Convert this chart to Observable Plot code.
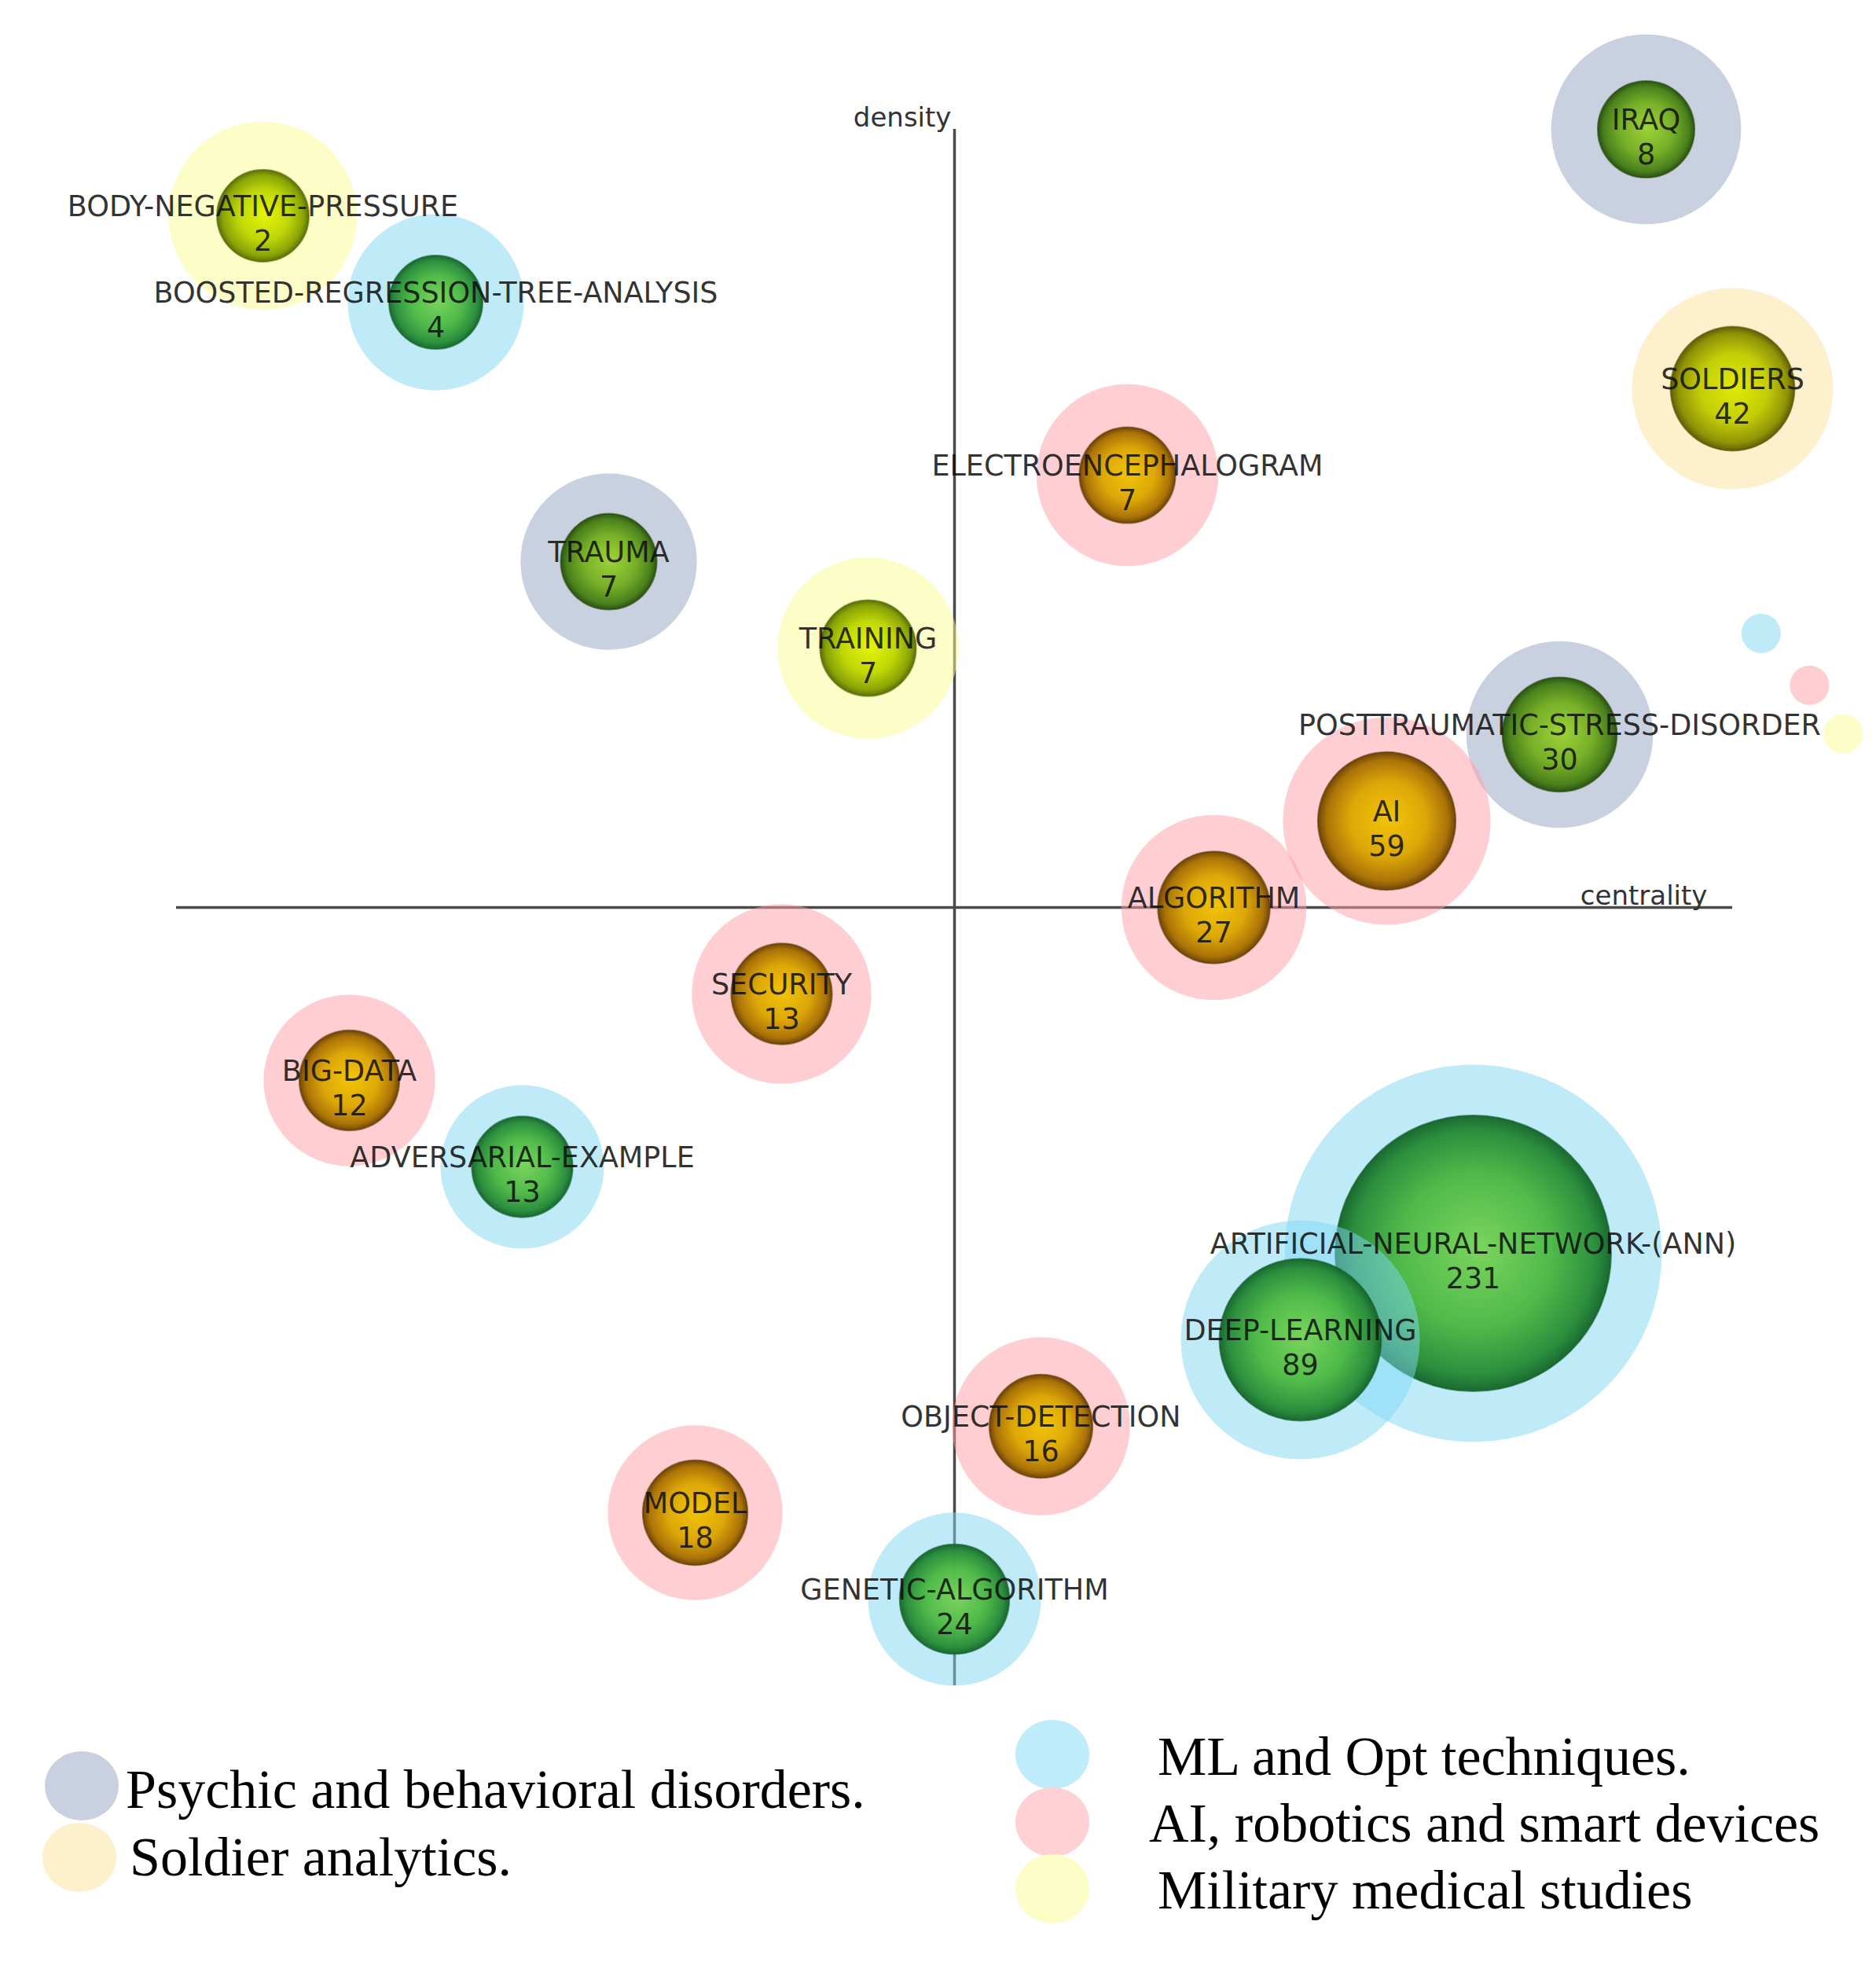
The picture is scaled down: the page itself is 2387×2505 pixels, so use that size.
<!DOCTYPE html>
<html><head><meta charset="utf-8">
<script src="https://cdn.jsdelivr.net/npm/d3@7"></script>
<script src="https://cdn.jsdelivr.net/npm/@observablehq/plot@0.6"></script>
<style>
body{margin:0;background:#fff;}
#wrap{width:2387px;}
#wrap svg{display:block;}
</style></head><body><div id="wrap"></div>
<script>
// Themes of the strategic diagram (drawing order)
const themes = ["IRAQ","SOLDIERS","BODY-NEGATIVE-PRESSURE","BOOSTED-REGRESSION-TREE-ANALYSIS","ELECTROENCEPHALOGRAM","TRAUMA","TRAINING","POSTTRAUMATIC-STRESS-DISORDER","AI","ALGORITHM","SECURITY","BIG-DATA","ADVERSARIAL-EXAMPLE","ARTIFICIAL-NEURAL-NETWORK-(ANN)","DEEP-LEARNING","OBJECT-DETECTION","MODEL","GENETIC-ALGORITHM"];
// centrality and density ranks (axes cross at 0)
const centrality = [8, 9, -8, -6, 2, -4, -1, 7, 5, 3, -2, -7, -5, 6, 4, 1, -3, 0];
const density    = [9, 6, 8, 7, 5, 4, 3, 2, 1, 0, -1, -2, -3, -4, -5, -6, -7, -8];
// number of documents shown in each bubble
const counts     = [8, 42, 2, 4, 7, 7, 7, 30, 59, 27, 13, 12, 13, 231, 89, 16, 18, 24];
// size of the outer (cluster) halo, same units as counts
const haloSize   = [124, 138, 122, 107, 114, 107, 113, 120, 146, 118, 111, 101, 91, 357, 185, 109, 105, 103];
// cluster of each theme
const cluster    = ["psy","sol","med","ml","ai","psy","med","psy","ai","ai","ai","ai","ml","ml","ml","ai","ai","ml"];
// small loose dots on the right
const extraX = [9.33, 9.89, 10.28];
const extraY = [3.17, 2.57, 2.01];
const extraCluster = ["ml", "ai", "med"];
// legend
const legendKeys = ["psy", "sol", "ml", "ai", "med"];
const legendLabels = ["Psychic and behavioral disorders.", "Soldier analytics.", "ML and Opt techniques.", "AI, robotics and smart devices", "Military medical studies"];
const axisLabels = ["centrality", "density"];

// styles
const haloColor = {psy: "#93a1c0", sol: "#fbe199", ml: "#7fd8f3", ai: "#ff9ea8", med: "#fbfb91"};
const legendColor = {psy: "#c9d0df", sol: "#fdf0cc", ml: "#bfecfa", ai: "#ffd0d4", med: "#fdfdc8"};
const coreStroke = {psy: "#24480c", sol: "#5a5200", ml: "#125e28", ai: "#5e3a00", med: "#546600"};
const gradStops = {
  psy: ["#9cd432", "#74ae22", "#467e16", "#27500c"],
  sol: ["#e2ea00", "#c2cc00", "#8c9000", "#5c5800"],
  ml:  ["#78d458", "#4cb944", "#288c38", "#14662a"],
  ai:  ["#f2c400", "#dca600", "#a87000", "#6c4200"],
  med: ["#e6f400", "#bdd600", "#86a000", "#586c00"]
};

const layers = [];
themes.forEach((t, i) => {
  layers.push({x: centrality[i], y: density[i], size: haloSize[i], kind: "halo", c: cluster[i]});
  layers.push({x: centrality[i], y: density[i], size: counts[i], kind: "core", c: cluster[i]});
});
const extras = extraX.map((x, i) => ({x, y: extraY[i], c: extraCluster[i]}));
const idx = d3.range(themes.length);

const chart = Plot.plot({
  width: 2387,
  height: 2180,
  margin: 0,
  style: {background: "white", fontFamily: "DejaVu Sans"},
  x: {domain: [-11, 10.5], range: [4, 2369], axis: null},
  y: {domain: [-9.3, 10.5], range: [2177, -1], axis: null},
  r: {type: "linear", domain: [0, 400], range: [57.5, 57.5 + 0.511 * 400]},
  color: {type: "identity"},
  opacity: {type: "identity"},
  marks: [
    Plot.ruleX([0], {y1: -9, y2: 9, stroke: "#4a4a4a", strokeWidth: 3.5}),
    Plot.ruleY([0], {x1: -9, x2: 9, stroke: "#4a4a4a", strokeWidth: 3.5}),
    Plot.dot(extras, {x: "x", y: "y", r: 25, fill: d => haloColor[d.c], fillOpacity: 0.5, stroke: null}),
    Plot.dot(layers, {
      x: "x", y: "y", r: "size", sort: null,
      fill: d => d.kind === "halo" ? haloColor[d.c] : `url(#grad-${d.c})`,
      fillOpacity: d => d.kind === "halo" ? 0.5 : 0.97,
      stroke: d => d.kind === "halo" ? "none" : coreStroke[d.c],
      strokeOpacity: d => d.kind === "halo" ? 0 : 0.6,
      strokeWidth: 2
    }),
    Plot.text(idx, {x: i => centrality[i], y: i => density[i], text: i => themes[i],
      fontSize: 36.5, lineAnchor: "bottom", fill: "#0e0e0e", fillOpacity: 0.86}),
    Plot.text(idx, {x: i => centrality[i], y: i => density[i], text: i => String(counts[i]),
      fontSize: 36.5, lineAnchor: "bottom", dy: 44, fill: "#0e0e0e", fillOpacity: 0.86}),
    Plot.text([axisLabels[0]], {x: 9, y: 0, text: d => d, textAnchor: "end", lineAnchor: "bottom",
      dx: -32, dy: -4, fontSize: 34, fill: "#333"}),
    Plot.text([axisLabels[1]], {x: 0, y: 9, text: d => d, textAnchor: "end", lineAnchor: "bottom",
      dx: -4, dy: -4, fontSize: 34, fill: "#333"})
  ]
});

// radial gradients for the bubble cores
const defs = document.createElementNS("http://www.w3.org/2000/svg", "defs");
defs.innerHTML = Object.entries(gradStops).map(([k, s]) =>
  `<radialGradient id="grad-${k}" cx="50%" cy="50%" r="50%" fx="52%" fy="48%">
     <stop offset="0%" stop-color="${s[0]}"/>
     <stop offset="55%" stop-color="${s[1]}"/>
     <stop offset="88%" stop-color="${s[2]}"/>
     <stop offset="100%" stop-color="${s[3]}"/>
   </radialGradient>`).join("");
chart.insertBefore(defs, chart.firstChild);

const wrap = document.getElementById("wrap");
wrap.appendChild(chart);

// legend below the chart
const legPos = {
  psy: {cx: 104, cy: 92, tx: 160, ty: 120},
  sol: {cx: 101, cy: 183, tx: 165, ty: 206},
  ml:  {cx: 1339, cy: 52, tx: 1473, ty: 78},
  ai:  {cx: 1339, cy: 138, tx: 1462, ty: 163},
  med: {cx: 1339, cy: 223, tx: 1473, ty: 248}
};
const ns = "http://www.w3.org/2000/svg";
const leg = document.createElementNS(ns, "svg");
leg.setAttribute("width", 2387);
leg.setAttribute("height", 325);
legendKeys.forEach((k, i) => {
  const p = legPos[k];
  const c = document.createElementNS(ns, "ellipse");
  c.setAttribute("cx", p.cx); c.setAttribute("cy", p.cy);
  c.setAttribute("rx", 47); c.setAttribute("ry", 44);
  c.setAttribute("fill", legendColor[k]);
  leg.appendChild(c);
  const t = document.createElementNS(ns, "text");
  t.setAttribute("x", p.tx); t.setAttribute("y", p.ty);
  t.setAttribute("font-family", "Liberation Serif, serif");
  t.setAttribute("font-size", 70);
  t.setAttribute("fill", "#000");
  t.textContent = legendLabels[i];
  leg.appendChild(t);
});
wrap.appendChild(leg);
</script>
</body></html>
